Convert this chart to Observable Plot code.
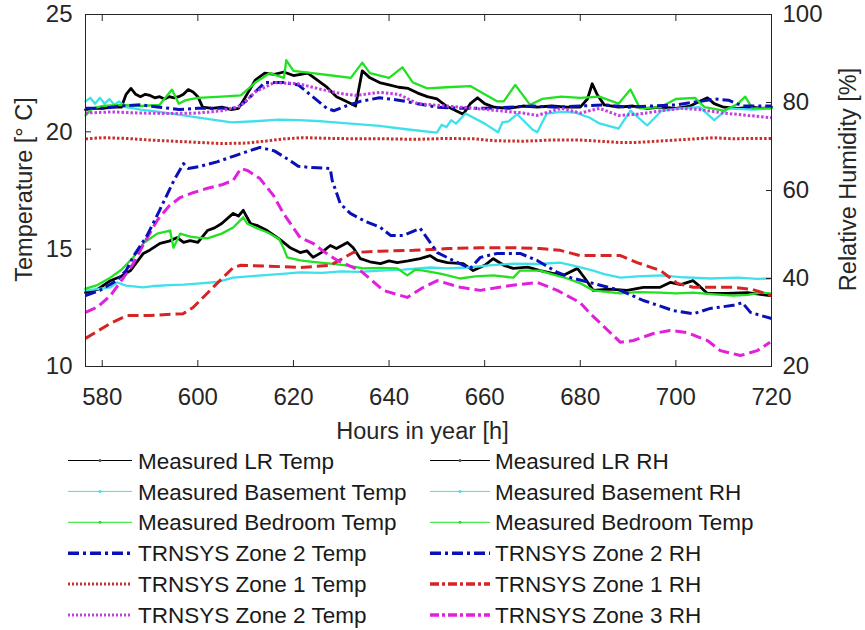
<!DOCTYPE html>
<html><head><meta charset="utf-8">
<script src="https://cdn.jsdelivr.net/npm/d3@7"></script>
<script src="https://cdn.jsdelivr.net/npm/@observablehq/plot@0.6"></script>
<style>
body{margin:0;background:#fff;}
#chart{width:865px;height:630px;position:relative;font-family:"Liberation Sans",Arial,sans-serif;}
#chart svg{display:block;}
#chart svg.legend{position:absolute;left:0;top:440px;}
</style></head><body><div id="chart"></div>
<script>
// ---- tick labels / categories ----
const xTicks = [580, 600, 620, 640, 660, 680, 700, 720];
const tempTicks = [10, 15, 20, 25];
const rhTicks = [20, 40, 60, 80, 100];
const xLabel = "Hours in year [h]";
const yLabelLeft = "Temperature [° C]";
const yLabelRight = "Relative Humidity [%]";
const legendLeftNames = ["Measured LR Temp", "Measured Basement Temp", "Measured Bedroom Temp", "TRNSYS Zone 2 Temp", "TRNSYS Zone 1 Temp", "TRNSYS Zone 2 Temp"];
const legendRightNames = ["Measured LR RH", "Measured Basement RH", "Measured Bedroom Temp", "TRNSYS Zone 2 RH", "TRNSYS Zone 1 RH", "TRNSYS Zone 3 RH"];

// ---- temperature series [hour, °C] ----
const lrTemp = [[576.5,20.95],[578,21.0],[580,21.0],[582,21.05],[584,21.05],[585,21.6],[586,21.85],[587,21.6],[588,21.5],[589,21.6],[590,21.55],[591,21.45],[592,21.5],[593,21.4],[594,21.5],[595,21.45],[596,21.5],[597,21.6],[598,21.8],[599,21.7],[600,21.5],[601,21.05],[603,21.0],[605,21.05],[607,20.95],[608.5,21.0],[610,21.5],[612,22.2],[614,22.5],[616,22.45],[618,22.55],[620,22.4],[623,22.5],[625,22.2],[627,21.9],[629,21.5],[631,21.3],[633,21.1],[634.4,22.6],[636,22.3],[638,22.1],[640,22.0],[642,21.9],[644,21.85],[646,21.65],[648,21.5],[650,21.4],[652,21.1],[654,20.9],[655.5,20.75],[657,21.2],[658.5,21.45],[660,21.2],[662,21.05],[665,21.0],[668,21.1],[671,21.05],[674,21.1],[677,21.05],[680,21.05],[681.5,21.4],[682.5,22.05],[683.5,21.6],[685,21.15],[688,21.05],[691,21.1],[694,21.0],[697,21.05],[700,21.0],[703,21.1],[705,21.3],[706.6,21.45],[708,21.2],[710,21.05],[713,21.0],[716,21.05],[718,21.0],[720,21.05]];
const basementTemp = [[576.5,21.3],[577.5,21.45],[578.5,21.2],[579.5,21.45],[580.5,21.2],[581.5,21.4],[582.5,21.15],[583.5,21.3],[585,21.05],[588,20.95],[592,20.85],[597,20.7],[602,20.55],[607,20.4],[612,20.45],[617,20.52],[621,20.5],[626,20.45],[632,20.35],[638,20.25],[644,20.1],[650,19.97],[651,20.3],[652,20.2],[653,20.5],[654,20.35],[656,20.78],[660,20.35],[662.8,19.98],[663.7,20.4],[665,20.45],[666.8,20.75],[670,20.1],[671,19.98],[673,20.78],[676,20.85],[679,20.82],[682,20.6],[684,20.36],[688,20.14],[690.5,20.9],[694,20.27],[697,20.9],[701,21.0],[705,21.05],[708,20.5],[711,21.0],[716,20.95],[720,21.0]];
const bedroomTemp = [[576.5,20.7],[578,21.0],[580,21.1],[584,21.15],[588,21.1],[592,21.15],[594.6,21.8],[596,21.2],[597.5,21.35],[600,21.45],[605,21.5],[609,21.55],[612,22.1],[615,22.5],[618,22.3],[618.5,23.05],[620,22.6],[624,22.5],[628,22.4],[632,22.3],[634.4,22.95],[636,22.5],[640,22.3],[642.8,22.75],[645,22.1],[648,21.85],[652,21.9],[657,21.95],[660,21.6],[662.6,21.3],[664,21.3],[666.4,22.0],[669.5,21.15],[672,21.4],[676,21.5],[680,21.45],[684,21.5],[688,21.2],[690.5,21.8],[692.5,21.0],[696.7,21.05],[700,21.4],[704,21.45],[706,21.05],[710,20.9],[713,21.2],[714.5,21.5],[716,21.0],[720,21.0]];
const zone2Temp = [[576.5,21.0],[580,21.0],[584,21.1],[588,21.15],[592,21.05],[596,20.95],[600,21.0],[604,21.0],[608,21.0],[610,21.3],[614,22.1],[618,22.1],[621,22.0],[624,21.5],[627,21.0],[628.5,20.9],[631,21.1],[634,21.3],[638,21.45],[642,21.35],[646,21.2],[650,21.05],[655,21.0],[660,21.0],[665,21.05],[670,21.1],[675,21.05],[680,21.1],[685,21.15],[690,21.05],[695,21.1],[700,21.15],[705,21.3],[708,21.4],[711,21.35],[714,21.1],[720,21.1]];
const zone1Temp = [[576.5,19.7],[580,19.75],[585,19.72],[590,19.65],[595,19.6],[600,19.55],[605,19.5],[610,19.52],[614,19.6],[618,19.7],[622,19.75],[628,19.72],[634,19.7],[640,19.7],[646,19.68],[652,19.72],[658,19.7],[662,19.62],[668,19.6],[674,19.65],[680,19.65],[684,19.6],[688,19.55],[692,19.55],[696,19.6],[700,19.65],[704,19.7],[708,19.75],[712,19.7],[716,19.72],[720,19.72]];
const zone3Temp = [[576.5,20.8],[582,20.85],[588,20.8],[594,20.78],[600,20.8],[605,20.9],[609,21.1],[612,21.7],[616,22.1],[621,22.05],[626,21.8],[630,21.63],[633,21.55],[638,21.68],[642,21.6],[646,21.2],[652,21.1],[658,21.0],[663,20.9],[668,20.8],[671,20.7],[676,21.0],[680,20.8],[684,21.0],[688,20.7],[692,20.75],[697,20.9],[701,21.0],[705,20.95],[710,20.8],[715,20.7],[720,20.6]];

// ---- relative humidity series [hour, %] ----
const lrRH = [[576.5,36.8],[579,37.5],[581.7,39.5],[584,40.5],[585.9,41.8],[588.6,45.7],[590,46.5],[592.1,48],[594,48.5],[595.7,49.3],[597,48.2],[598.4,48.6],[600,48.2],[602,50.9],[603.5,51.5],[605,52.5],[607.4,54.8],[608.5,54.2],[609.5,55.5],[611,52.5],[612.5,52],[614.5,50.9],[617,49],[619.3,47],[621.4,45.9],[622.8,46.3],[624.1,44.8],[626,46],[627.7,47.5],[629,46.8],[631.3,48.2],[632.5,47],[634,44.5],[636,43.8],[638.2,43.4],[640,44],[641.7,43.6],[644,44],[646.5,44.5],[648.6,45.2],[650,44.2],[652.2,43.6],[655.5,43.4],[657.6,41.8],[660,43],[661.8,44.5],[664,43],[666,42.3],[669,42.6],[671.6,41.8],[674,41.2],[676.4,40.7],[679.4,42.3],[681,40],[682.7,37.3],[686,37.6],[689.8,37.3],[693.2,38],[696.7,38],[698.8,39.1],[701,38.6],[703.6,39.5],[705,38.2],[706.6,36.6],[710.8,36.6],[715,36.8],[719.7,36.1]];
const basementRH = [[576.5,37.3],[579,37.6],[581.7,38],[583.1,39.1],[585,38.4],[588.6,38],[591,38.3],[594,38.5],[597,38.6],[600.5,38.9],[604,39.2],[607.4,40.2],[612,40.6],[617,41],[621.4,41.4],[626,41.3],[630,41.6],[634,41.5],[638.2,41.8],[643,42],[648.6,42.5],[652,42.3],[656.4,42.5],[661,43],[666,43.4],[671,43.3],[675.8,43.6],[679,42.8],[682.7,41.8],[685,41],[688.4,40.2],[692,40.5],[696.7,40.7],[701,40.3],[707.2,40],[713,40.2],[717,39.9],[719.7,40]];
const bedroomRH = [[576.5,37.7],[579,38.5],[581.7,40.2],[584,42],[586.5,44.8],[588.6,48],[591.5,50.2],[594.2,50.9],[594.9,47],[596.3,50.2],[598.4,49.5],[600,49.3],[602,49.1],[605,50.2],[607.4,51.6],[609.5,53.9],[610.3,52.5],[612,51.6],[614.5,50.5],[617,49],[617.9,47],[618.7,44.8],[621.4,44.1],[624,43.8],[627.7,43.4],[631,43],[634.6,42.3],[638,42.4],[641.7,42.3],[643.8,40.7],[645.5,42],[647.2,41.8],[650.7,41.1],[654.9,40],[658,40.5],[661.8,40.7],[666,40.2],[667.4,41.8],[671.6,41.8],[674,41],[677.3,40],[680,38.9],[682.7,37.3],[685,37],[688.4,36.6],[692,36.9],[696.7,36.8],[700,36.6],[703.6,36.8],[708,36.4],[712,36.1],[715,36.3],[717.7,36.8],[719.7,36.6]];
const zone2RH = [[576.5,36.1],[579.5,37.3],[583,39.5],[585,41.8],[586.5,45],[589.4,49.8],[592,55.5],[595,62.3],[597,66.1],[598,65],[600.5,65.5],[604,66.5],[608,68],[611,69.1],[613,69.8],[616,69],[619.3,66.8],[621,65.5],[624,65.2],[627.7,65.0],[628.1,62.3],[629.8,57],[631.9,54.8],[635,53],[638.2,51.6],[640.3,49.8],[643,49.8],[646.5,51.4],[648,49.1],[650.1,45.9],[653.4,44.1],[657,42.3],[659.1,44.8],[662.6,45.7],[667.4,45.7],[671,44.1],[675,41.5],[678,40.2],[682.7,38.9],[688.4,37.3],[693.2,35],[699.5,32.7],[703.7,32],[707.2,33.2],[712,33.9],[713.9,34.5],[715.6,32.3],[720,30.9]];
const zone1RH = [[576.5,26.4],[581.7,29.8],[585.2,31.6],[590,31.6],[596.9,32],[599,33.4],[603.2,38],[607.4,42.5],[609,43],[615,42.8],[621.4,42.5],[627.7,43],[632.5,45.9],[638,46.2],[645.1,46.4],[652.2,46.8],[659,47],[666,47],[671.6,46.8],[675.8,46.4],[680,45.2],[688.4,45.2],[691.9,43.6],[696.8,41.8],[700.3,38.9],[703.6,38],[712,38],[716,37.5],[720,36.1]];
const zone3RH = [[576.5,32.3],[579,33.5],[581.7,36.1],[584,39.5],[586.5,43.4],[589,48.5],[591.5,53.2],[594,56.5],[596.3,58.4],[599,59.5],[602,60.5],[605,61.3],[607.4,62.3],[609,65.0],[610.5,64.5],[613,62.7],[615.8,58.9],[617.9,54.8],[621.4,49.3],[624.1,48],[626.5,46],[629.2,44.1],[634,41.8],[638.8,37.3],[643.8,35.7],[647.2,38],[650.1,39.5],[654.9,38],[659.1,37.3],[665.4,38.4],[671,39.1],[675.2,37.3],[680,34.5],[682.1,32],[685,29],[688.4,25.5],[691.1,25.9],[695.3,27.5],[698.8,28.2],[702.4,27.7],[706.6,25.9],[709.3,23.6],[713.5,22.5],[717,23.6],[719.7,25.5]];

// ---- styles ----
const C = {black:"#000000", cyan:"#3ee0ea", green:"#22e022", blue:"#0a10b8", red:"#d62424", redDot:"#c8302c", magDot:"#c040e0", mag:"#e020dc", ink:"#262626"};
const DASHDOT = "11,4,3,4", DOT = "2.5,2", DASH = "11,5";
const font = '"Liberation Sans", Arial, Helvetica, sans-serif';

// RH (20..100) drawn against the temperature scale (10..25)
const rhToT = rh => 10 + (rh - 20) * 15 / 80;
const tToRh = t => Math.round(20 + (t - 10) * 80 / 15);

const series = [
  {d: lrTemp, rh:false, stroke:C.black, w:2.8, dash:null},
  {d: basementTemp, rh:false, stroke:C.cyan, w:2.3, dash:null},
  {d: bedroomTemp, rh:false, stroke:C.green, w:2.3, dash:null},
  {d: zone2Temp, rh:false, stroke:C.blue, w:3, dash:DASHDOT},
  {d: zone1Temp, rh:false, stroke:C.redDot, w:3, dash:DOT},
  {d: zone3Temp, rh:false, stroke:C.magDot, w:3, dash:DOT},
  {d: lrRH, rh:true, stroke:C.black, w:2.8, dash:null},
  {d: basementRH, rh:true, stroke:C.cyan, w:2.3, dash:null},
  {d: bedroomRH, rh:true, stroke:C.green, w:2.3, dash:null},
  {d: zone1RH, rh:true, stroke:C.red, w:3, dash:DASH},
  {d: zone3RH, rh:true, stroke:C.mag, w:3, dash:DASH},
  {d: zone2RH, rh:true, stroke:C.blue, w:3, dash:DASHDOT}
];

const lineMarks = series.map(s => Plot.line(s.d, {
  x: p => p[0],
  y: p => s.rh ? rhToT(p[1]) : p[1],
  stroke: s.stroke, strokeWidth: s.w, strokeDasharray: s.dash,
  strokeLinejoin: "round", strokeLinecap: s.dash ? "butt" : "round"
}));

const plot = Plot.plot({
  width: 865, height: 452,
  marginTop: 14, marginBottom: 86, marginLeft: 85, marginRight: 94,
  style: {fontFamily: font, color: C.ink, background: "#fff"},
  x: {domain: [576.5, 720]},
  y: {domain: [10, 25]},
  marks: [
    ...lineMarks,
    Plot.frame({stroke: C.ink, strokeWidth: 1}),
    Plot.axisX(xTicks, {anchor: "bottom", tickSize: -6, tickPadding: 27, fontSize: 24, label: null, stroke: C.ink, fill: C.ink, tickFormat: d => String(d)}),
    Plot.axisX(xTicks, {anchor: "top", tickSize: -6, label: null, stroke: C.ink, tickFormat: () => ""}),
    Plot.axisY(tempTicks, {anchor: "left", tickSize: -6, tickPadding: 19, fontSize: 24, label: null, stroke: C.ink, fill: C.ink, tickFormat: d => String(d)}),
    Plot.axisY(rhTicks.map(rhToT), {anchor: "right", tickSize: -6, tickPadding: 17, fontSize: 24, label: null, stroke: C.ink, fill: C.ink, tickFormat: tToRh}),
    Plot.text([xLabel], {text: d => d, frameAnchor: "bottom", textAnchor: "middle", lineAnchor: "middle", dy: 65, dx: -6, fontSize: 23.5, fill: C.ink}),
    Plot.text([yLabelLeft], {text: d => d, frameAnchor: "left", textAnchor: "middle", lineAnchor: "middle", rotate: -90, dx: -61, dy: -1, fontSize: 23.5, fill: C.ink}),
    Plot.text([yLabelRight], {text: d => d, frameAnchor: "right", textAnchor: "middle", lineAnchor: "middle", rotate: -90, dx: 77, dy: -11, fontSize: 23.5, fill: C.ink})
  ]
});
document.getElementById("chart").appendChild(plot);

// ---- legend (two columns below the axes) ----
const legendItems = [
  {name: legendLeftNames[0], col:0, stroke:C.black, w:1, dash:null, dot:true},
  {name: legendLeftNames[1], col:0, stroke:C.cyan, w:1, dash:null, dot:true},
  {name: legendLeftNames[2], col:0, stroke:C.green, w:1, dash:null, dot:true},
  {name: legendLeftNames[3], col:0, stroke:C.blue, w:3.5, dash:DASHDOT},
  {name: legendLeftNames[4], col:0, stroke:C.redDot, w:3, dash:"2,2"},
  {name: legendLeftNames[5], col:0, stroke:C.magDot, w:3, dash:"2,2"},
  {name: legendRightNames[0], col:1, stroke:C.black, w:1, dash:null, dot:true},
  {name: legendRightNames[1], col:1, stroke:C.cyan, w:1, dash:null, dot:true},
  {name: legendRightNames[2], col:1, stroke:C.green, w:1, dash:null, dot:true},
  {name: legendRightNames[3], col:1, stroke:C.blue, w:3.5, dash:DASHDOT},
  {name: legendRightNames[4], col:1, stroke:C.red, w:3.5, dash:"9,3,3,3"},
  {name: legendRightNames[5], col:1, stroke:C.mag, w:3.5, dash:"9,3,3,3"}
];
const colX = [{x1: 68, x2: 132, tx: 138}, {x1: 430, x2: 490, tx: 495}];
const rowY0 = 20.5, rowStep = 30.9, lfs = 22.5;
const leg = d3.select("#chart").append("svg").attr("class", "legend").attr("width", 865).attr("height", 190)
  .style("font-family", font);
const counters = [0, 0];
legendItems.forEach(it => {
  const r = counters[it.col]++;
  const y = rowY0 + r * rowStep;
  const c = colX[it.col];
  const g = leg.append("g");
  g.append("line").attr("x1", c.x1).attr("x2", c.x2).attr("y1", y).attr("y2", y)
    .attr("stroke", it.stroke).attr("stroke-width", it.w)
    .attr("stroke-dasharray", it.dash);
  if (it.dot) g.append("circle").attr("cx", (c.x1 + c.x2) / 2).attr("cy", y).attr("r", 1.5).attr("fill", it.stroke === C.black ? "#555" : it.stroke);
  g.append("text").attr("x", c.tx).attr("y", y + 0.36 * lfs).attr("font-size", lfs)
    .attr("fill", "#1a1a1a").text(it.name);
});
</script>
</body></html>
